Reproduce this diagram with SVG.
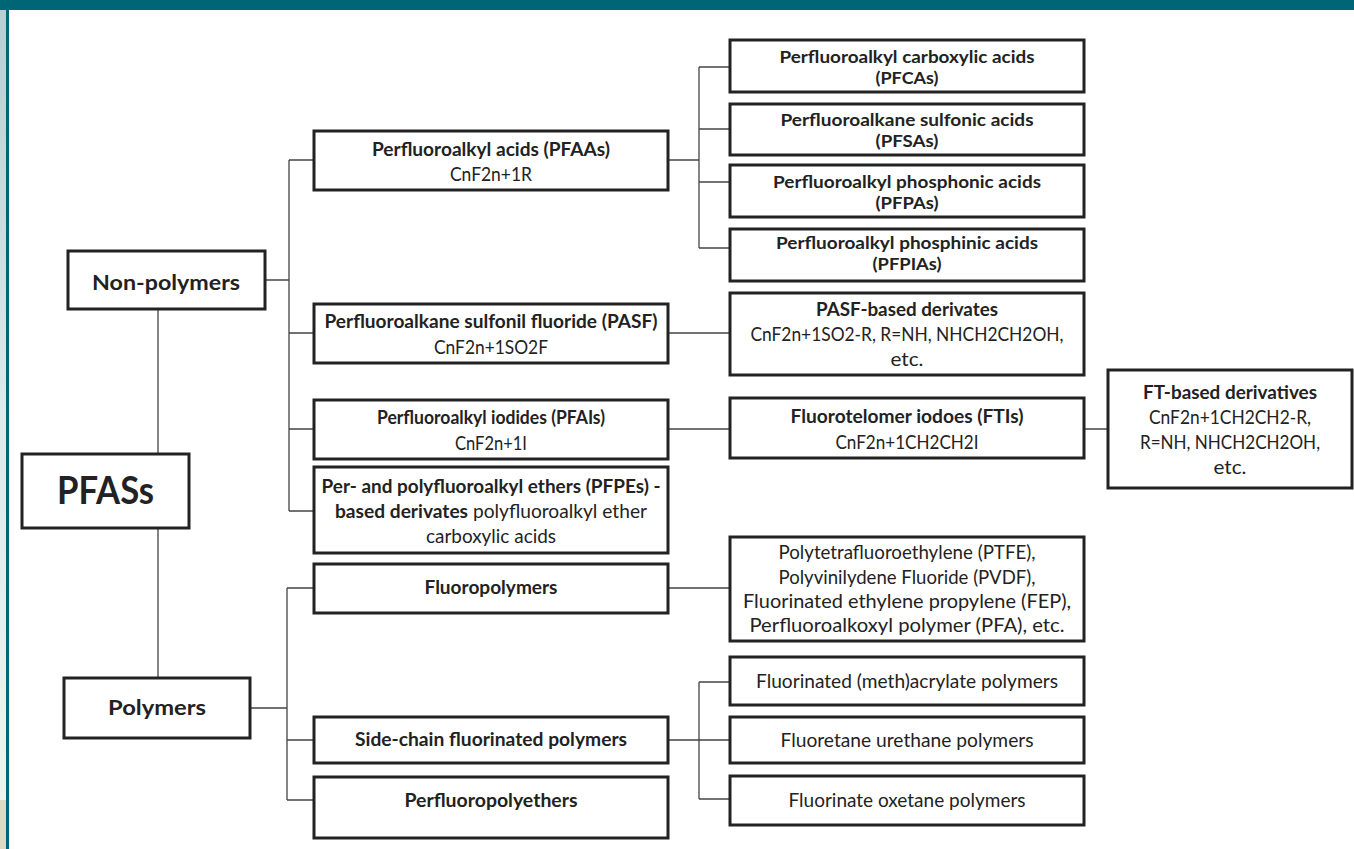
<svg xmlns="http://www.w3.org/2000/svg" width="1354" height="849" viewBox="0 0 1354 849">
<defs>
<linearGradient id="lg" x1="0" y1="0" x2="0" y2="1">
<stop offset="0" stop-color="#b9cdd2"/>
<stop offset="0.5" stop-color="#dfe8ea"/>
<stop offset="1" stop-color="#eef2f2"/>
</linearGradient>
<style>
.box{fill:#fff;stroke:#222;stroke-width:3}
.ln{fill:none;stroke:#444;stroke-width:1.3}
text{font-family:Lato,"Open Sans","Liberation Sans",sans-serif;fill:#222;text-anchor:middle}
.b{font-weight:bold;font-size:19px}
.r{font-size:19px}
.s{font-weight:bold;font-size:17.5px}
</style>
</defs>
<rect x="0" y="0" width="1354" height="849" fill="#fff"/>
<rect x="0" y="10" width="7" height="790" fill="url(#lg)"/>
<rect x="0" y="800" width="7" height="49" fill="#ddd9c3"/>
<rect x="6" y="0" width="3" height="849" fill="#006675"/>
<rect x="0" y="0" width="1354" height="10" fill="#006675"/>

<g id="connectors">
<path class="ln" d="M158 309V454M158 528V678"/>
<path class="ln" d="M265 280H289M289 160V511M289 160H314M289 333H314M289 429H314M289 511H314"/>
<path class="ln" d="M668 160H699M699 67V248M699 67H730M699 129H730M699 182H730M699 248H730"/>
<path class="ln" d="M668 333H730M668 429H730M1084 429H1108"/>
<path class="ln" d="M250 708H287M287 588V800M287 588H314M287 740H314M287 800H314"/>
<path class="ln" d="M668 588H730M668 740H730M699 682V799M699 682H730M699 799H730"/>
</g>

<g id="pfass"><rect class="box" x="22" y="454" width="167" height="74"/><text x="105.5" y="504" style="font-weight:bold;font-size:38px" textLength="97" lengthAdjust="spacingAndGlyphs">PFASs</text></g>
<g id="nonpolymers"><rect class="box" x="68" y="251" width="197" height="58"/><text x="166" y="290" style="font-weight:bold;font-size:21px" textLength="148" lengthAdjust="spacingAndGlyphs">Non-polymers</text></g>
<g id="polymers"><rect class="box" x="64" y="678" width="186" height="60"/><text x="157" y="715" style="font-weight:bold;font-size:21px" textLength="98" lengthAdjust="spacingAndGlyphs">Polymers</text></g>

<g id="pfaas"><rect class="box" x="314" y="131" width="354" height="59"/><text class="b" x="491" y="156" textLength="238" lengthAdjust="spacingAndGlyphs">Perfluoroalkyl acids (PFAAs)</text><text class="r" x="491" y="181" textLength="82" lengthAdjust="spacingAndGlyphs">CnF2n+1R</text></g>
<g id="pasf"><rect class="box" x="314" y="304" width="354" height="59"/><text class="b" x="491" y="328" textLength="333" lengthAdjust="spacingAndGlyphs">Perfluoroalkane sulfonil fluoride (PASF)</text><text class="r" x="491" y="354" textLength="114" lengthAdjust="spacingAndGlyphs">CnF2n+1SO2F</text></g>
<g id="pfais"><rect class="box" x="314" y="400" width="354" height="59"/><text class="b" x="491" y="424" textLength="228" lengthAdjust="spacingAndGlyphs">Perfluoroalkyl iodides (PFAIs)</text><text class="r" x="491" y="450" textLength="72" lengthAdjust="spacingAndGlyphs">CnF2n+1I</text></g>
<g id="pfpes"><rect class="box" x="314" y="467" width="354" height="86"/><text class="b" x="491" y="493" textLength="339" lengthAdjust="spacingAndGlyphs">Per- and polyfluoroalkyl ethers (PFPEs) -</text><text class="r" x="491" y="518" textLength="312" lengthAdjust="spacingAndGlyphs"><tspan font-weight="bold">based derivates</tspan> polyfluoroalkyl ether</text><text class="r" x="491" y="543" textLength="130" lengthAdjust="spacingAndGlyphs">carboxylic acids</text></g>
<g id="fluoropolymers"><rect class="box" x="314" y="564" width="354" height="49"/><text class="b" x="491" y="594" textLength="133" lengthAdjust="spacingAndGlyphs">Fluoropolymers</text></g>
<g id="sidechain"><rect class="box" x="314" y="717" width="354" height="46"/><text class="b" x="491" y="746" textLength="272" lengthAdjust="spacingAndGlyphs">Side-chain fluorinated polymers</text></g>
<g id="pfpe"><rect class="box" x="314" y="777" width="354" height="61"/><text class="b" x="491" y="807" textLength="173" lengthAdjust="spacingAndGlyphs">Perfluoropolyethers</text></g>

<g id="pfcas"><rect class="box" x="730" y="40" width="354" height="52"/><text class="s" x="907" y="63" textLength="255" lengthAdjust="spacingAndGlyphs">Perfluoroalkyl carboxylic acids</text><text class="s" x="907" y="84" textLength="63" lengthAdjust="spacingAndGlyphs">(PFCAs)</text></g>
<g id="pfsas"><rect class="box" x="730" y="104" width="354" height="51"/><text class="s" x="907" y="126" textLength="253" lengthAdjust="spacingAndGlyphs">Perfluoroalkane sulfonic acids</text><text class="s" x="907" y="147" textLength="63" lengthAdjust="spacingAndGlyphs">(PFSAs)</text></g>
<g id="pfpas"><rect class="box" x="730" y="165" width="354" height="52"/><text class="s" x="907" y="188" textLength="268" lengthAdjust="spacingAndGlyphs">Perfluoroalkyl phosphonic acids</text><text class="s" x="907" y="209" textLength="63" lengthAdjust="spacingAndGlyphs">(PFPAs)</text></g>
<g id="pfpias"><rect class="box" x="730" y="229" width="354" height="52"/><text class="s" x="907" y="249" textLength="262" lengthAdjust="spacingAndGlyphs">Perfluoroalkyl phosphinic acids</text><text class="s" x="907" y="270" textLength="69" lengthAdjust="spacingAndGlyphs">(PFPIAs)</text></g>
<g id="pasfderiv"><rect class="box" x="730" y="293" width="354" height="82"/><text class="b" x="907" y="316" textLength="182" lengthAdjust="spacingAndGlyphs">PASF-based derivates</text><text class="r" x="907" y="341" textLength="313" lengthAdjust="spacingAndGlyphs">CnF2n+1SO2-R, R=NH, NHCH2CH2OH,</text><text class="r" x="907" y="366" textLength="33" lengthAdjust="spacingAndGlyphs">etc.</text></g>
<g id="ftis"><rect class="box" x="730" y="398" width="354" height="60"/><text class="b" x="907" y="423" textLength="233" lengthAdjust="spacingAndGlyphs">Fluorotelomer iodoes (FTIs)</text><text class="r" x="907" y="449" textLength="143" lengthAdjust="spacingAndGlyphs">CnF2n+1CH2CH2I</text></g>
<g id="ftderiv"><rect class="box" x="1108" y="370" width="244" height="118"/><text class="b" x="1230" y="399" textLength="174" lengthAdjust="spacingAndGlyphs">FT-based derivatives</text><text class="r" x="1230" y="424" textLength="162" lengthAdjust="spacingAndGlyphs">CnF2n+1CH2CH2-R,</text><text class="r" x="1230" y="449" textLength="180" lengthAdjust="spacingAndGlyphs">R=NH, NHCH2CH2OH,</text><text class="r" x="1230" y="474" textLength="33" lengthAdjust="spacingAndGlyphs">etc.</text></g>
<g id="fpexamples"><rect class="box" x="730" y="537" width="354" height="104"/><text class="r" x="907" y="559" textLength="257" lengthAdjust="spacingAndGlyphs">Polytetrafluoroethylene (PTFE),</text><text class="r" x="907" y="584" textLength="257" lengthAdjust="spacingAndGlyphs">Polyvinilydene Fluoride (PVDF),</text><text class="r" x="907" y="608" textLength="328" lengthAdjust="spacingAndGlyphs">Fluorinated ethylene propylene (FEP),</text><text class="r" x="907" y="632" textLength="315" lengthAdjust="spacingAndGlyphs">Perfluoroalkoxyl polymer (PFA), etc.</text></g>
<g id="methacrylate"><rect class="box" x="730" y="657" width="354" height="48"/><text class="r" x="907" y="688" textLength="302" lengthAdjust="spacingAndGlyphs">Fluorinated (meth)acrylate polymers</text></g>
<g id="urethane"><rect class="box" x="730" y="717" width="354" height="46"/><text class="r" x="907" y="747" textLength="253" lengthAdjust="spacingAndGlyphs">Fluoretane urethane polymers</text></g>
<g id="oxetane"><rect class="box" x="730" y="776" width="354" height="49"/><text class="r" x="907" y="807" textLength="237" lengthAdjust="spacingAndGlyphs">Fluorinate oxetane polymers</text></g>
</svg>
